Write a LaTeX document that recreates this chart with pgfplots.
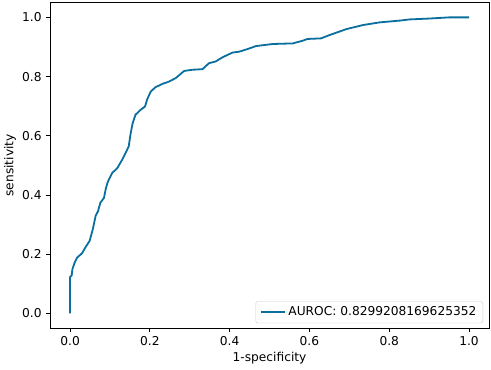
\documentclass[border=0pt]{standalone}
\usepackage{fontspec}
\setmainfont{DejaVu Sans}
\usepackage{pgfplots}
\pgfplotsset{compat=1.18}
\definecolor{roc}{HTML}{0A6F9E}

\begin{document}
\fontsize{11.5bp}{14bp}\selectfont
\begin{tikzpicture}
\begin{axis}[scale only axis,width=412.9bp,height=306.4bp,
 xmin=-0.05,xmax=1.05,ymin=-0.05,ymax=1.05,
 xtick={0,0.2,...,1.0},ytick={0,0.2,...,1.0},
 xtick pos=bottom,ytick pos=left,tick align=outside,
 major tick length=4bp,
 every tick/.style={black,line width=0.9bp},
 axis line style={line width=0.9bp},
 /pgf/number format/assume math mode=true,
 xticklabel style={/pgf/number format/.cd,fixed,fixed zerofill,precision=1},
 yticklabel style={/pgf/number format/.cd,fixed,fixed zerofill,precision=1},
 xlabel={1-specificity},ylabel={sensitivity},
 xlabel style={yshift=2bp},ylabel style={yshift=-2bp},
 legend style={at={(1,0)},anchor=south east,xshift=-5.6bp,yshift=4.7bp,
   draw=black!20,rounded corners=2bp,fill=white,inner xsep=4bp,inner ysep=3bp,
   font=\fontsize{11.5bp}{14bp}\selectfont},
 legend cell align=left,
 legend image code/.code={\draw[#1] (0bp,0bp) -- (23bp,0bp);}]
\addplot[roc,line width=1.7bp,sharp plot] coordinates {
(0,0)(0,0.123)(0.004,0.128)(0.006,0.15)(0.011,0.17)(0.018,0.189)(0.03,0.203)
(0.038,0.222)(0.049,0.245)(0.057,0.284)(0.064,0.329)(0.07,0.345)(0.076,0.374)
(0.085,0.39)(0.09,0.424)(0.095,0.446)(0.106,0.475)(0.118,0.49)(0.131,0.52)
(0.141,0.547)(0.147,0.564)(0.152,0.609)(0.157,0.643)(0.164,0.671)(0.177,0.688)
(0.188,0.699)(0.193,0.722)(0.202,0.749)(0.214,0.764)(0.231,0.775)(0.248,0.783)
(0.265,0.795)(0.286,0.819)(0.307,0.823)(0.332,0.825)(0.348,0.845)(0.365,0.851)
(0.382,0.865)(0.407,0.881)(0.424,0.884)(0.445,0.893)(0.466,0.903)(0.508,0.91)
(0.558,0.912)(0.583,0.921)(0.595,0.927)(0.629,0.929)(0.65,0.94)(0.692,0.96)
(0.734,0.974)(0.776,0.983)(0.826,0.989)(0.851,0.993)(0.901,0.996)(0.951,1.0)(1.0,1.0)};
\addlegendentry{AUROC: 0.8299208169625352}
\end{axis}
\useasboundingbox ([xshift=-46bp,yshift=-38.4bp]current axis.south west)
  rectangle ([xshift=1.9bp,yshift=2.4bp]current axis.north east);
\end{tikzpicture}
\end{document}
